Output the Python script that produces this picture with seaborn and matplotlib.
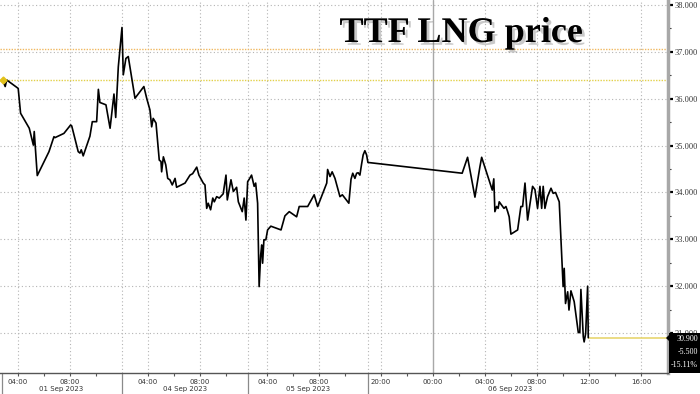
import matplotlib
matplotlib.use("Agg")
import matplotlib.pyplot as plt
import matplotlib.patheffects as pe
import matplotlib.transforms as mtransforms
from matplotlib.patches import Rectangle, Polygon
from matplotlib.ticker import FixedLocator, FormatStrFormatter
import seaborn as sns
import pandas as pd

# TTF front-month intraday prices (times as shown on the chart axis)
sep01_times = ["02:50", "02:55", "03:01", "03:08", "04:01", "04:12", "04:52", "05:11", "05:15", "05:29",
               "06:23", "06:46", "06:51", "07:32", "08:03", "08:08", "08:38", "08:46", "08:52", "09:01",
               "09:32", "09:43", "10:03", "10:11", "10:18", "10:46", "11:05", "11:23", "11:31", "11:43"]
sep01_prices = [36.41, 36.33, 36.26, 36.40, 36.22, 35.69, 35.37, 35.01, 35.30, 34.36,
                34.87, 35.19, 35.17, 35.26, 35.44, 35.42, 34.87, 34.84, 34.91, 34.78,
                35.20, 35.51, 35.51, 36.20, 35.92, 35.87, 35.37, 36.10, 35.60, 36.68]

sep04_times = ["02:00", "02:06", "02:18", "02:29", "03:00", "03:41", "03:54", "04:09", "04:17", "04:24",
               "04:37", "04:52", "05:00", "05:03", "05:11", "05:22", "05:31", "05:41", "05:52", "06:05",
               "06:12", "06:51", "07:14", "07:26", "07:45", "07:55", "08:15", "08:23", "08:31", "08:38",
               "08:49", "08:59", "09:06", "09:17", "09:29", "09:47", "10:00", "10:06", "10:23", "10:34",
               "10:49", "10:57", "11:15", "11:24", "11:32"]
sep04_prices = [37.52, 36.51, 36.86, 36.90, 36.01, 36.26, 36.01, 35.76, 35.40, 35.58,
                35.48, 34.69, 34.66, 34.44, 34.76, 34.59, 34.30, 34.27, 34.16, 34.30,
                34.11, 34.20, 34.37, 34.40, 34.54, 34.37, 34.20, 34.16, 33.66, 33.77,
                33.63, 33.88, 33.80, 33.91, 33.88, 33.97, 34.37, 33.84, 34.27, 34.02,
                34.11, 33.80, 33.59, 33.88, 33.41]

sep05_times = ["02:30", "02:37", "02:48", "03:00", "03:07", "03:16", "03:23", "03:30", "03:35", "03:39",
               "03:45", "03:54", "04:02", "04:17", "05:04", "05:22", "05:42", "06:16", "06:28", "07:07",
               "07:37", "07:53", "08:35", "08:39", "08:50", "09:00", "09:13", "09:36", "09:47", "10:17",
               "10:27", "10:35", "10:45", "10:53", "11:00", "11:08", "11:16", "11:23", "11:31", "11:39",
               "11:45"]
sep05_prices = [34.23, 34.28, 34.37, 34.13, 34.20, 33.77, 31.99, 32.66, 32.88, 32.49,
                32.99, 32.99, 33.20, 33.28, 33.20, 33.50, 33.59, 33.48, 33.70, 33.70,
                33.95, 33.70, 34.20, 34.49, 34.34, 34.44, 34.30, 33.91, 33.95, 33.77,
                34.28, 34.41, 34.30, 34.41, 34.42, 34.37, 34.61, 34.80, 34.89, 34.80,
                34.64]

sep06_times = ["02:15", "02:40", "03:14", "03:37", "03:45", "04:34", "04:41", "04:46", "04:54", "05:01",
               "05:06", "05:17", "05:28", "05:37", "05:45", "05:52", "06:00", "06:31", "06:46", "06:54",
               "07:05", "07:17", "07:40", "07:51", "08:03", "08:14", "08:22", "08:29", "08:37", "08:49",
               "09:05", "09:15", "09:26", "09:43", "09:57", "10:01", "10:06", "10:12", "10:22", "10:28",
               "10:37", "10:52", "11:11", "11:18", "11:23", "11:34", "11:38", "11:45", "11:54", "11:57"]
sep06_prices = [34.41, 34.75, 33.90, 34.55, 34.75, 34.05, 34.29, 33.59, 33.70, 33.66,
                33.80, 33.73, 33.66, 33.70, 33.59, 33.48, 33.11, 33.20, 33.70, 33.70,
                34.20, 33.41, 34.13, 34.06, 33.66, 34.13, 33.66, 34.13, 33.66, 33.91,
                34.09, 33.98, 34.00, 33.80, 32.42, 31.99, 32.38, 31.63, 31.88, 31.49,
                31.90, 31.67, 31.01, 31.01, 31.93, 30.92, 30.81, 30.99, 32.00, 30.90]

prev_close = 36.40
ref_level = 37.07

# visible trading windows on the axis (gaps are squeezed out)
sessions = [("2023-09-01 02:37", "2023-09-01 12:00"),
            ("2023-09-04 02:00", "2023-09-04 11:40"),
            ("2023-09-05 02:30", "2023-09-05 11:45"),
            ("2023-09-05 19:00", "2023-09-06 18:05")]

major_ticks = ["2023-09-01 04:00", "2023-09-01 08:00", "2023-09-04 04:00", "2023-09-04 08:00",
               "2023-09-05 04:00", "2023-09-05 08:00", "2023-09-05 20:00", "2023-09-06 00:00",
               "2023-09-06 04:00", "2023-09-06 08:00", "2023-09-06 12:00", "2023-09-06 16:00"]
minor_ticks = ["2023-09-01 06:00", "2023-09-01 10:00", "2023-09-04 06:00", "2023-09-04 10:00",
               "2023-09-05 06:00", "2023-09-05 10:00", "2023-09-05 22:00", "2023-09-06 02:00",
               "2023-09-06 06:00", "2023-09-06 10:00", "2023-09-06 14:00"]


def to_pos(ts):
    ts = pd.Timestamp(ts)
    pos = 0.0
    for start, end in sessions:
        s, e = pd.Timestamp(start), pd.Timestamp(end)
        if ts <= e:
            return pos + max((ts - s).total_seconds(), 0) / 3600
        pos += (e - s).total_seconds() / 3600
    return pos


frames = []
for day, times, prices in [("2023-09-01", sep01_times, sep01_prices),
                           ("2023-09-04", sep04_times, sep04_prices),
                           ("2023-09-05", sep05_times, sep05_prices),
                           ("2023-09-06", sep06_times, sep06_prices)]:
    frames.append(pd.DataFrame({"time": pd.to_datetime([f"{day} {t}" for t in times]),
                                "price": prices}))
df = pd.concat(frames, ignore_index=True)
df["pos"] = df["time"].map(to_pos)

x_end = to_pos(sessions[-1][1])
boundaries = [to_pos(s) for s, _ in sessions]

sns.set_style("white")
fig = plt.figure(figsize=(7, 3.94), dpi=100)
ax = fig.add_axes([0, 1 - 373 / 394, 668 / 700, 373 / 394])

grid_kw = dict(color="#b4b4b4", lw=0.8, ls=(0, (1, 2.2)), zorder=0)
for v in range(31, 39):
    ax.axhline(v, **grid_kw)
for t in major_ticks:
    if t.endswith("06 00:00"):
        ax.axvline(to_pos(t), color="#a8a8a8", lw=1.0, zorder=0)
    else:
        ax.axvline(to_pos(t), **grid_kw)
for b in boundaries[1:]:
    ax.axvline(b, **grid_kw)

ax.axhline(ref_level, color="#f0b860", lw=1.0, ls=(0, (1, 1)), zorder=1)
ax.axhline(prev_close, color="#e2d04a", lw=1.0, ls=(0, (1, 1)), zorder=1)

sns.lineplot(data=df, x="pos", y="price", ax=ax, color="black", lw=1.2,
             sort=False, estimator=None, zorder=3)

last = df.iloc[-1]
ax.hlines(last["price"], last["pos"], x_end, color="#e8d670", lw=1.2, zorder=2)
ax.plot(df["pos"].iloc[0], df["price"].iloc[0], marker="D", ms=3.5, color="#e3c21a", zorder=4)

ax.set_xlim(0, x_end)
ax.set_ylim(38 - 368 / 46.86, 38 + 5 / 46.86)
ax.set_xlabel("")
ax.set_ylabel("")

# x axis: times + date labels
ax.xaxis.set_major_locator(FixedLocator([to_pos(t) for t in major_ticks]))
ax.set_xticklabels([pd.Timestamp(t).strftime("%H:%M") for t in major_ticks])
ax.xaxis.set_minor_locator(FixedLocator([to_pos(t) for t in minor_ticks]))
ax.tick_params(axis="x", which="both", direction="out", length=2.5, width=0.8,
               color="#555555", labelsize=5, labelcolor="#333333", pad=1.5, bottom=True)

trans = mtransforms.blended_transform_factory(ax.transData, ax.transAxes)
day_spans = [(0, boundaries[1], "01 Sep 2023"), (boundaries[1], boundaries[2], "04 Sep 2023"),
             (boundaries[2], boundaries[3], "05 Sep 2023"),
             (to_pos("2023-09-06 00:00"), last["pos"], "06 Sep 2023")]
for a, b, lab in day_spans:
    ax.text((a + b) / 2, -16 / 373, lab, transform=trans, ha="center", va="center",
            fontsize=5, color="#333333")
for b in [0.15] + boundaries[1:]:
    ax.plot([b, b], [0, -21 / 373], transform=trans, color="#8a8a8a", lw=0.9, clip_on=False)

# y axis on the right
ax.yaxis.tick_right()
ax.yaxis.set_major_locator(FixedLocator(range(31, 39)))
ax.yaxis.set_minor_locator(FixedLocator([v + 0.5 for v in range(30, 38)]))
ax.yaxis.set_major_formatter(FormatStrFormatter("%.3f"))
ax.tick_params(axis="y", which="major", direction="out", length=3.5, width=1.6,
               color="black", labelsize=6, labelcolor="#333333", pad=1)
ax.tick_params(axis="y", which="minor", direction="out", length=2, width=0.8, color="#333333")
for lbl in ax.get_yticklabels():
    lbl.set_fontfamily("Liberation Serif")

for side in ["top", "left"]:
    ax.spines[side].set_visible(False)
ax.spines["right"].set_color("#a8a8a8")
ax.spines["right"].set_linewidth(2.5)
ax.spines["bottom"].set_color("#555555")
ax.spines["bottom"].set_linewidth(1.0)

# last value box
change = last["price"] - prev_close
pct = change / prev_close * 100
fig.patches.append(Rectangle((669 / 700, 1 - 373 / 394), 31 / 700, 40 / 394,
                             transform=fig.transFigure, fc="black", ec="none", zorder=5))
fig.patches.append(Polygon([(666 / 700, 1 - 338 / 394), (670 / 700, 1 - 334 / 394),
                            (670 / 700, 1 - 342 / 394)], closed=True,
                           transform=fig.transFigure, fc="black", ec="none", zorder=5))
for yy, txt in [(339, f"{last['price']:.3f}"), (352, f"{change:.3f}"), (365, f"{pct:.2f}%")]:
    fig.text(698 / 700, 1 - yy / 394, txt, ha="right", va="center", color="white",
             fontsize=5.8, family="Liberation Serif", zorder=6)

# title with drop shadow
fig.text(583 / 700, 1 - 42 / 394, "TTF LNG price", ha="right", va="baseline",
         fontsize=26, fontweight="bold", family="Liberation Serif", color="black",
         path_effects=[pe.SimplePatchShadow(offset=(2, -2), shadow_rgbFace="#666666", alpha=0.35),
                       pe.Normal()])

fig.savefig("out.png", dpi=100, facecolor="white")
